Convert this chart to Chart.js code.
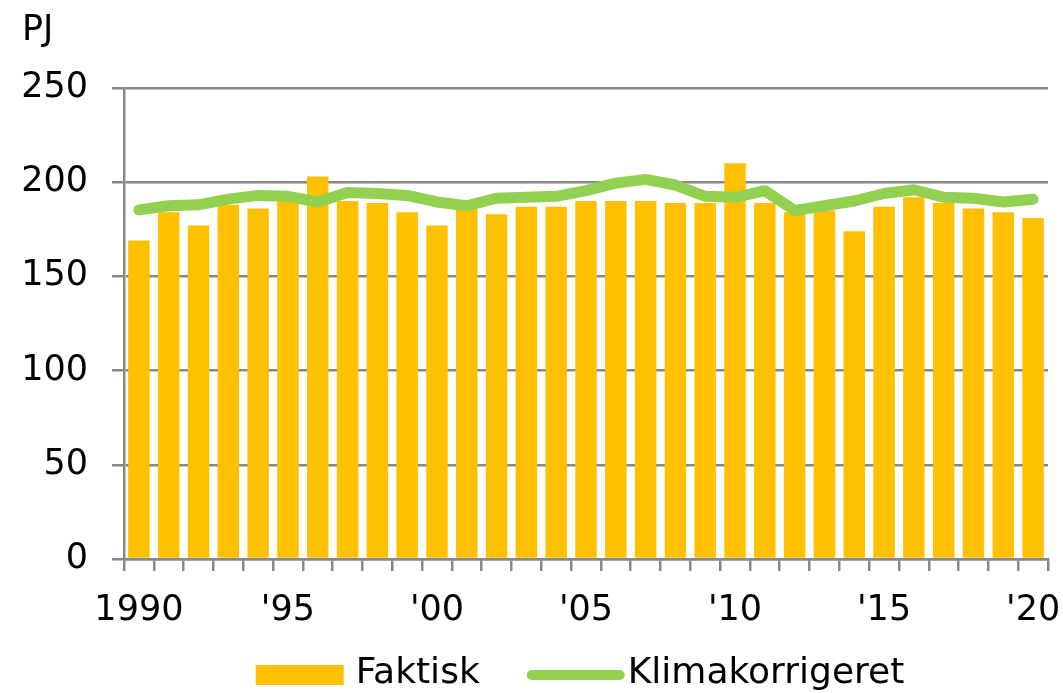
<!DOCTYPE html>
<html>
<head>
<meta charset="utf-8">
<script src="https://cdn.jsdelivr.net/npm/chart.js@4/dist/chart.umd.min.js"></script>
<style>
  html, body { margin: 0; padding: 0; background: #fff; }
  #wrap { width: 1063px; height: 693px; position: relative; }
</style>
</head>
<body>
<div id="wrap"><canvas id="myChart"></canvas></div>
<script>
(() => {
  'use strict'

  // data
  const years = []
  for (let y = 1990; y <= 2020; y++) years.push(String(y))
  const xTickLabels = ['1990', "'95", "'00", "'05", "'10", "'15", "'20"]
  const faktisk = [
    169, 184, 177, 188, 186, 190, 203, 190, 189, 184,
    177, 186, 183, 187, 187, 190, 190, 190, 189, 189,
    210, 189, 184, 185, 174, 187, 192, 189, 186, 184,
    181
  ]
  const klimakorrigeret = [
    185.3, 187.5, 188, 191, 193, 192.5, 189.5, 194.5, 194, 193,
    189.5, 187.5, 191.5, 192, 192.5, 195.5, 199.5, 201.5, 198.5, 192.5,
    192, 195.5, 185, 187.5, 190, 194, 196, 192, 191.5, 189.5,
    191
  ]
  const yTicks = [0, 50, 100, 150, 200, 250]

  const gray = '#888888'
  const font = 'DejaVu Sans'

  // legend drawn under the plot, roughly centred on the chart area
  const bottomLegend = {
    id: 'bottomLegend',
    afterDraw(chart) {
      const c = chart.ctx
      const area = chart.chartArea
      const sets = chart.data.datasets
      c.save()
      c.font = '36px "' + font + '"'
      c.textBaseline = 'middle'
      const sw = 88, gapText = [12, 8], gapItem = 52
      const widths = sets.map(ds => c.measureText(ds.label).width)
      let total = gapItem
      sets.forEach((ds, i) => { total += sw + gapText[i] + widths[i] })
      let x = (area.left + area.right) / 2 - total / 2 - 6
      const yMid = 675
      sets.forEach((ds, i) => {
        if (ds.type === 'line') {
          c.strokeStyle = ds.borderColor
          c.lineWidth = 10
          c.lineCap = 'round'
          c.beginPath()
          c.moveTo(x, yMid)
          c.lineTo(x + sw, yMid)
          c.stroke()
        } else {
          c.fillStyle = ds.backgroundColor
          c.fillRect(x, yMid - 10, sw, 20)
        }
        x += sw + gapText[i]
        c.fillStyle = '#000'
        c.fillText(ds.label, x, yMid - 1)
        x += widths[i] + gapItem
      })
      c.restore()
    }
  }

  const ctx = document.getElementById('myChart')

  const myChart = new Chart(ctx, {
    data: {
      labels: years,
      datasets: [{
        type: 'bar',
        label: 'Faktisk',
        data: faktisk,
        backgroundColor: '#FFC000',
        barPercentage: 0.72,
        categoryPercentage: 1,
        order: 2
      }, {
        type: 'line',
        label: 'Klimakorrigeret',
        data: klimakorrigeret,
        borderColor: '#92D050',
        backgroundColor: '#92D050',
        borderWidth: 11,
        borderCapStyle: 'round',
        borderJoinStyle: 'round',
        pointRadius: 0,
        tension: 0,
        order: 1
      }]
    },
    options: {
      responsive: true,
      maintainAspectRatio: false,
      animation: false,
      layout: {
        padding: { left: 22, right: 15, top: 0, bottom: 0 }
      },
      plugins: {
        legend: { display: false },
        tooltip: { enabled: false },
        title: {
          display: true,
          text: 'PJ',
          align: 'start',
          color: '#000',
          font: { family: font, size: 35, weight: 'normal' },
          padding: { top: 10, bottom: 36 }
        }
      },
      scales: {
        x: {
          offset: true,
          grid: {
            offset: true,
            drawOnChartArea: false,
            drawTicks: true,
            tickLength: 12,
            color: gray,
            lineWidth: 2.5
          },
          border: { display: true, color: gray, width: 2.5 },
          ticks: {
            autoSkip: false,
            maxRotation: 0,
            padding: 19,
            color: '#000',
            font: { family: font, size: 35 },
            callback: (v, i) => (i % 5 === 0 ? xTickLabels[i / 5] : '')
          },
          afterFit: (scale) => {
            scale.height = 134
            scale.paddingLeft = 0
            scale.paddingRight = 0
          }
        },
        y: {
          min: 0,
          max: 250,
          afterBuildTicks: (scale) => {
            scale.ticks = yTicks.map(v => ({ value: v }))
          },
          grid: {
            color: gray,
            lineWidth: 2.5,
            drawTicks: true,
            tickLength: 12
          },
          border: { display: true, color: gray, width: 2.5 },
          ticks: {
            padding: 24,
            color: '#000',
            font: { family: font, size: 35 }
          },
          afterFit: (scale) => {
            scale.width = 102
          }
        }
      }
    },
    plugins: [bottomLegend]
  })
})()
</script>
</body>
</html>
